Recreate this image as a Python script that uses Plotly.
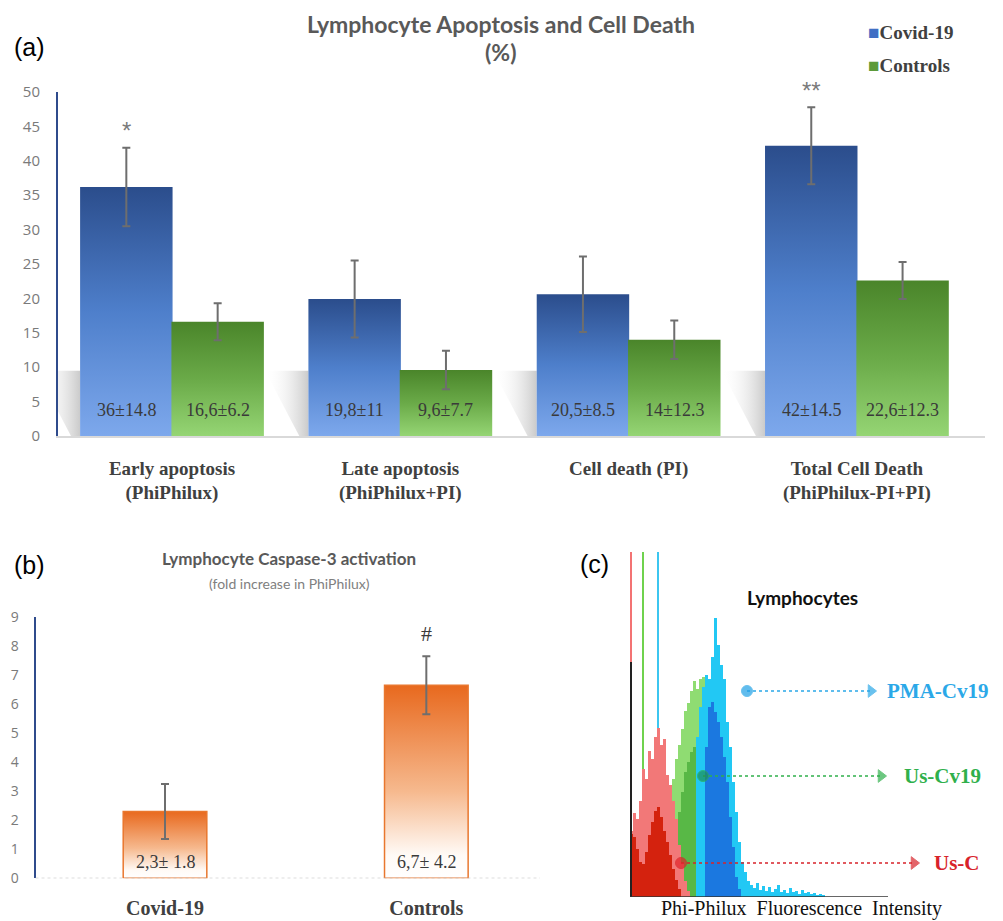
import plotly.graph_objects as go

# window is 1003x921; the page body has an 8px margin, so the figure is 995x913 placed at (8, 8)
WIN_W, WIN_H = 1003, 921
OFF = 8
W, H = WIN_W - OFF, WIN_H - OFF

# ---------------- data ----------------
# (a) Lymphocyte apoptosis and cell death (%)
apop_categories = ["Early apoptosis<br>(PhiPhilux)", "Late apoptosis<br>(PhiPhilux+PI)",
                   "Cell death (PI)", "Total Cell Death<br>(PhiPhilux-PI+PI)"]
covid_pct = [36.2, 19.9, 20.6, 42.2]
covid_sem = [5.7, 5.6, 5.5, 5.6]
control_pct = [16.6, 9.6, 14.0, 22.6]
control_sem = [2.7, 2.8, 2.8, 2.7]
covid_text = ["36±14.8", "19,8±11", "20,5±8.5", "42±14.5"]
control_text = ["16,6±6.2", "9,6±7.7", "14±12.3", "22,6±12.3"]
covid_sig = ["*", "", "", "**"]
a_yticks = [0, 5, 10, 15, 20, 25, 30, 35, 40, 45, 50]

# (b) Lymphocyte caspase-3 activation (fold increase)
casp_categories = ["Covid-19", "Controls"]
casp_fold = [2.3, 6.65]
casp_sem = [0.95, 1.0]
casp_text = ["2,3± 1.8", "6,7± 4.2"]
casp_sig = ["", "#"]
b_yticks = [0, 1, 2, 3, 4, 5, 6, 7, 8, 9]

# (c) Phi-Philux fluorescence histograms (channel bins of width 3, counts)
hist_bin = 3
red_light_start = 0
red_light = [66, 84, 78, 96, 128, 118, 146, 138, 160, 169, 152, 158, 122, 112, 96, 78, 52, 34, 16, 6]
red_dark_start = 0
red_dark = [63, 60, 48, 35, 33, 45, 62, 75, 86, 90, 80, 66, 55, 42, 28, 17, 8]
green_light_start = 33
green_light = [40, 55, 92, 118, 138, 152, 168, 186, 194, 206, 216, 208, 218, 220, 204, 186, 150, 115, 80, 48, 24, 10]
green_dark_start = 39
green_dark = [25, 45, 65, 85, 105, 125, 135, 145, 150, 155, 148, 140, 125, 100, 70, 45, 25, 10]
cyan_light_start = 66
cyan_light = [160, 190, 210, 222, 218, 240, 279, 252, 232, 218, 175, 150, 115, 85, 55, 35, 25, 16, 12,
              9, 14, 7, 11, 6, 10, 5, 8, 12, 5, 7, 4, 9, 5, 6, 3, 7, 4, 5, 3, 4, 2, 3, 2]
blue_dark_start = 75
blue_dark = [150, 190, 195, 185, 175, 160, 140, 115, 80, 50, 20, 8]
spike_channels = [0.6, 13, 28]
spike_counts = [400, 400, 400]
spike_colors = ["#f37373", "#6fd24e", "#3cc6f0"]
iso_channel = [0.6]
iso_count = [235]
hist_labels = ["PMA-Cv19", "Us-Cv19", "Us-C"]
hist_label_colors = ["#2ba8e8", "#2fb04b", "#d8232a"]

# ---------------- helpers ----------------
def px(x):
    return (x - OFF) / W

def py(y):
    return 1 - (y - OFF) / H

def bar_shape(xc, w, v):
    return [xc - w / 2, xc - w / 2, xc + w / 2, xc + w / 2, xc - w / 2], [0, v, v, 0, 0]

def bins(start, vals):
    return [start + hist_bin * i + hist_bin / 2 for i in range(len(vals))]

fig = go.Figure()

# ---------------- panel (a) ----------------
BW_A = 0.405
OFF_A = 0.2
covid_scale = [[0, "#7da8ec"], [0.5, "#4e7fcb"], [1, "#2b4d8c"]]
ctrl_scale = [[0, "#95d574"], [0.5, "#6aaa48"], [1, "#4a852a"]]
shadow_scale = [[0, "rgba(255,255,255,0)"], [1, "rgba(185,185,185,0.75)"]]

# soft grey shadow to the left of each group (decorative, tied to bar positions)
for i in range(len(covid_pct)):
    xl = i - OFF_A - BW_A / 2
    fig.add_trace(go.Scatter(x=[xl - 0.04, xl, xl, xl - 0.19, xl - 0.04], y=[0, 0, 9.5, 9.5, 0],
                             fill="toself", mode="lines", line=dict(width=0),
                             fillgradient=dict(type="horizontal", colorscale=shadow_scale),
                             hoverinfo="skip", showlegend=False, xaxis="x", yaxis="y"))

for i, v in enumerate(covid_pct):
    xs, ys = bar_shape(i - OFF_A, BW_A, v)
    fig.add_trace(go.Scatter(x=xs, y=ys, fill="toself", mode="lines", line=dict(width=0),
                             fillgradient=dict(type="vertical", colorscale=covid_scale),
                             hoverinfo="skip", showlegend=False, xaxis="x", yaxis="y"))
for i, v in enumerate(control_pct):
    xs, ys = bar_shape(i + OFF_A, BW_A, v)
    fig.add_trace(go.Scatter(x=xs, y=ys, fill="toself", mode="lines", line=dict(width=0),
                             fillgradient=dict(type="vertical", colorscale=ctrl_scale),
                             hoverinfo="skip", showlegend=False, xaxis="x", yaxis="y"))

err_style = dict(type="data", color="#6e6e6e", thickness=2, width=4)
fig.add_trace(go.Scatter(x=[i - OFF_A for i in range(len(covid_pct))], y=covid_pct, mode="markers",
                         marker=dict(opacity=0), error_y=dict(array=covid_sem, **err_style),
                         hoverinfo="skip", showlegend=False, xaxis="x", yaxis="y"))
fig.add_trace(go.Scatter(x=[i + OFF_A for i in range(len(control_pct))], y=control_pct, mode="markers",
                         marker=dict(opacity=0), error_y=dict(array=control_sem, **err_style),
                         hoverinfo="skip", showlegend=False, xaxis="x", yaxis="y"))

annotations = []
serif = "Liberation Serif"
C = dict(xanchor="center", yanchor="middle", showarrow=False)
for i in range(len(covid_pct)):
    annotations.append(dict(x=i - OFF_A, y=0, xref="x", yref="y", text=covid_text[i], yshift=26,
                            font=dict(family=serif, size=18, color="#3a3a3a"), **C))
    annotations.append(dict(x=i + OFF_A, y=0, xref="x", yref="y", text=control_text[i], yshift=26,
                            font=dict(family=serif, size=18, color="#3a3a3a"), **C))
    if covid_sig[i]:
        annotations.append(dict(x=i - OFF_A, y=covid_pct[i] + covid_sem[i], xref="x", yref="y",
                                text=covid_sig[i], yshift=17,
                                font=dict(family="Liberation Sans", size=24, color="#7a7a7a"), **C))

# ---------------- panel (b) ----------------
BW_B = 0.32
casp_scale = [[0, "#ffffff"], [0.12, "#fffaf6"], [0.45, "#f6b98e"], [1, "#e8691e"]]
for i, v in enumerate(casp_fold):
    xs, ys = bar_shape(i, BW_B, v)
    fig.add_trace(go.Scatter(x=xs, y=ys, fill="toself", mode="lines", line=dict(width=1.5, color="#e9772e"),
                             fillgradient=dict(type="vertical", colorscale=casp_scale),
                             hoverinfo="skip", showlegend=False, xaxis="x2", yaxis="y2"))
fig.add_trace(go.Scatter(x=list(range(len(casp_fold))), y=casp_fold, mode="markers",
                         marker=dict(opacity=0), error_y=dict(array=casp_sem, **err_style),
                         hoverinfo="skip", showlegend=False, xaxis="x2", yaxis="y2"))
for i in range(len(casp_fold)):
    annotations.append(dict(x=i, y=0, xref="x2", yref="y2", text=casp_text[i], yshift=16,
                            font=dict(family=serif, size=18, color="#3a3a3a"), **C))
    if casp_sig[i]:
        annotations.append(dict(x=i, y=casp_fold[i] + casp_sem[i], xref="x2", yref="y2",
                                text=casp_sig[i], yshift=23,
                                font=dict(family=serif, size=22, color="#3a3a3a"), **C))

# ---------------- panel (c) ----------------
def hist(start, vals, color, opacity=1.0):
    return go.Bar(x=bins(start, vals), y=vals, width=hist_bin, marker=dict(color=color, line=dict(width=0)),
                  opacity=opacity, hoverinfo="skip", showlegend=False, xaxis="x3", yaxis="y3")

fig.add_trace(go.Bar(x=spike_channels, y=spike_counts, width=1.2, marker=dict(color=spike_colors, line=dict(width=0)),
                     hoverinfo="skip", showlegend=False, xaxis="x3", yaxis="y3"))
fig.add_trace(hist(green_light_start, green_light, "#8fdc72"))
fig.add_trace(hist(green_dark_start, green_dark, "#58b846"))
fig.add_trace(hist(cyan_light_start, cyan_light, "#22c8f4"))
fig.add_trace(hist(blue_dark_start, blue_dark, "#1b78e0"))
fig.add_trace(hist(red_light_start, red_light, "#f27878"))
fig.add_trace(hist(red_dark_start, red_dark, "#d4220e"))
fig.add_trace(go.Bar(x=iso_channel, y=iso_count, width=1.2, marker=dict(color="#222222", line=dict(width=0)),
                     hoverinfo="skip", showlegend=False, xaxis="x3", yaxis="y3"))

# pointer lines from each histogram to its label
pointer_y = [206, 121, 34]
pointer_x0 = [117, 73, 51]
pointer_x1 = [241, 251, 284]
label_x = [307, 312, 327]
dot_colors = ["#1fa0e6", "#1f8f55", "#e3242b"]
for k in range(3):
    fig.add_trace(go.Scatter(x=[pointer_x0[k], pointer_x1[k]], y=[pointer_y[k], pointer_y[k]],
                             mode="lines+markers", line=dict(color=hist_label_colors[k], width=1.5, dash="dot"),
                             marker=dict(symbol=["circle", "triangle-right"], size=[11, 11],
                                         color=[dot_colors[k], hist_label_colors[k]]),
                             hoverinfo="skip", showlegend=False, xaxis="x3", yaxis="y3", cliponaxis=False))
    annotations.append(dict(x=label_x[k], y=pointer_y[k], xref="x3", yref="y3", text="<b>%s</b>" % hist_labels[k],
                            font=dict(family=serif, size=21, color=hist_label_colors[k]), **C))

# ---------------- titles, panel letters, legend ----------------
gray_title = "#595959"
P = dict(xref="paper", yref="paper")
annotations += [
    dict(x=px(501), y=py(24), text="<b>Lymphocyte Apoptosis and Cell Death</b>",
         font=dict(family="Lato", size=23, color=gray_title), **P, **C),
    dict(x=px(500), y=py(52), text="<b>(%)</b>",
         font=dict(family="Lato", size=23, color=gray_title), **P, **C),
    dict(x=px(289), y=py(558), text="<b>Lymphocyte Caspase-3 activation</b>",
         font=dict(family="Lato", size=17, color=gray_title), **P, **C),
    dict(x=px(289), y=py(583), text="(fold increase in PhiPhilux)",
         font=dict(family="Lato", size=14, color="#808080"), **P, **C),
    dict(x=px(802), y=py(597), text="<b>Lymphocytes</b>",
         font=dict(family="Lato", size=19, color="#111111"), **P, **C),
    dict(x=px(801), y=py(908), text="Phi-Philux&nbsp;&nbsp;Fluorescence&nbsp;&nbsp;Intensity",
         font=dict(family=serif, size=20, color="#111111"), **P, **C),
    dict(x=px(29), y=py(47), text="(a)", font=dict(family="Liberation Sans", size=25, color="#000000"), **P, **C),
    dict(x=px(29), y=py(565), text="(b)", font=dict(family="Liberation Sans", size=25, color="#000000"), **P, **C),
    dict(x=px(594), y=py(564), text="(c)", font=dict(family="Liberation Sans", size=25, color="#000000"), **P, **C),
    dict(x=px(866), y=py(33), xanchor="left", yanchor="middle", showarrow=False,
         text="<span style='color:#3f6fc4'>■</span><b>Covid-19</b>",
         font=dict(family=serif, size=19, color="#404040"), **P),
    dict(x=px(866), y=py(66), xanchor="left", yanchor="middle", showarrow=False,
         text="<span style='color:#5c9a3a'>■</span><b>Controls</b>",
         font=dict(family=serif, size=19, color="#404040"), **P),
]

shapes = [
    dict(type="line", xref="x2 domain", yref="y2", x0=0, x1=1, y0=0, y1=0,
         line=dict(color="#bdbdbd", width=1.2, dash="dot"), layer="above"),
    dict(type="line", xref="x3", yref="y3", x0=0, x1=258, y0=0, y1=0,
         line=dict(color="#333333", width=1.5)),
]

fig.update_layout(
    width=W, height=H, margin=dict(l=0, r=0, t=0, b=0, autoexpand=False),
    paper_bgcolor="white", plot_bgcolor="rgba(0,0,0,0)",
    barmode="overlay", bargap=0,
    annotations=annotations, shapes=shapes, showlegend=False,
    xaxis=dict(domain=[px(58), px(985)], range=[-0.4993, 3.561], anchor="y", automargin=False,
               tickvals=list(range(len(apop_categories))), ticktext=apop_categories,
               tickfont=dict(family=serif, size=19, color="#404040", weight="bold"),
               showline=True, linecolor="#d9d9d9", linewidth=1.5, ticks="", showgrid=False, zeroline=False,
               ticklabelstandoff=14),
    yaxis=dict(domain=[py(436), py(92)], range=[0, 50], anchor="x", tickvals=a_yticks, automargin=False,
               tickfont=dict(family="Open Sans", size=15, color="#7a7a7a"),
               showline=True, linecolor="#2f4b8c", linewidth=2, ticks="", showgrid=False, zeroline=False,
               ticklabelstandoff=13),
    xaxis2=dict(domain=[px(35.5), px(540)], range=[-0.4956, 1.435], anchor="y2", automargin=False,
                tickvals=list(range(len(casp_categories))), ticktext=casp_categories,
                tickfont=dict(family=serif, size=20, color="#404040", weight="bold"),
                showline=False, ticks="", showgrid=False, zeroline=False, ticklabelstandoff=16),
    yaxis2=dict(domain=[py(878.3), py(617)], range=[0, 9], anchor="x2", tickvals=b_yticks, automargin=False,
                tickfont=dict(family="Open Sans", size=14, color="#7a7a7a"),
                showline=True, linecolor="#2f4b8c", linewidth=2, ticks="", showgrid=False, zeroline=False,
                ticklabelstandoff=12),
    xaxis3=dict(domain=[px(630), px(1000)], range=[0, 370], anchor="y3", visible=False, automargin=False),
    yaxis3=dict(domain=[py(897), py(552)], range=[0, 345], anchor="x3", visible=False, automargin=False),
)

fig.write_html("out.html")
